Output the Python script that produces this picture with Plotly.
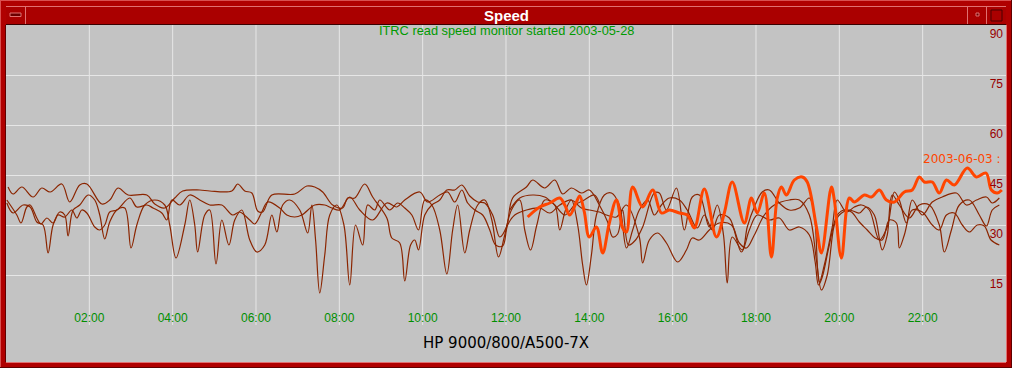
import plotly.graph_objects as go

# ---------------- data (hours of day, speed) ----------------
t_top = [0.05,0.17,0.38,0.65,0.86,1.06,1.34,1.53,1.77,1.94,2.30,2.49,2.69,2.93,3.38,3.57,3.81,4.05,4.24,4.65,4.89,5.42,5.56,5.73,5.90,6.04,6.16,6.38,6.93,7.22,7.41,7.60,7.84,8.08,8.20,8.37,8.61,8.80,9.14,9.26,9.45,9.57,9.71,9.81,9.90,10.05,10.22,10.41,10.58,10.77,10.94,11.13,11.32,11.49,11.68,11.85,12.01,12.16,12.49,12.64,12.93,13.17,13.36,13.57,13.81,14.00,14.24,14.44,14.56,14.68,14.80,14.94,15.11,15.28,15.56,15.68,15.85,16.09,16.28,16.47,16.64,16.88,17.07,17.22,17.31,17.43,17.67,17.79,17.96,18.15,18.32,18.56,18.80,19.04,19.28,19.40,19.52,19.64,19.83,19.95,20.17,20.36,20.53,20.72,20.96,21.15,21.32,21.44,21.61,21.75,21.99,22.23,22.47,22.81,23.05,23.29,23.53,23.67,23.84]
v_top = [41.4,39.3,41.4,38.4,41.1,39.9,42.3,36.9,42.0,42.3,36.3,37.5,41.1,39.0,39.0,36.3,35.1,38.1,40.2,40.5,40.2,40.2,42.3,40.2,39.6,34.2,33.9,39.0,39.3,41.7,41.4,39.9,36.0,35.1,38.1,38.1,42.3,38.4,32.1,26.1,24.6,13.2,24.0,25.5,22.5,33.0,36.0,37.5,40.5,40.5,42.0,38.7,36.9,36.6,33.0,26.4,29.4,38.1,41.4,43.5,41.1,43.5,39.3,41.1,39.6,40.5,36.0,30.9,26.4,27.3,34.5,24.0,25.5,29.4,39.6,39.6,34.5,41.1,28.5,38.4,39.0,29.4,36.0,27.0,12.6,26.4,22.5,29.4,35.4,39.9,40.5,36.6,34.5,35.1,38.1,33.0,12.9,18.0,29.4,37.5,33.9,35.4,36.0,34.5,25.5,29.4,39.9,37.5,30.6,37.5,33.0,36.9,38.4,39.6,36.0,37.5,38.4,36.6,38.1]

t_mid = [0.02,0.26,0.36,0.50,0.58,0.74,0.84,0.98,1.13,1.25,1.41,1.58,1.70,1.82,1.94,2.13,2.25,2.37,2.49,2.66,2.97,3.14,3.38,3.53,3.74,3.86,3.98,4.17,4.41,4.65,4.89,5.18,5.44,5.61,5.85,5.97,6.14,6.28,6.57,6.74,6.93,7.10,7.41,7.65,7.82,8.01,8.25,8.49,8.80,9.14,9.38,9.57,9.93,10.12,10.41,10.60,10.77,10.94,11.08,11.25,11.44,11.61,11.75,11.92,12.04,12.21,12.49,12.81,13.05,13.29,13.57,13.81,14.00,14.24,14.41,14.65,14.89,15.20,15.28,15.44,15.64,15.85,16.12,16.33,16.47,16.64,16.88,17.12,17.41,17.60,17.77,17.96,18.20,18.44,18.80,19.04,19.28,19.45,19.57,19.71,19.88,20.00,20.24,20.48,20.65,20.84,21.03,21.15,21.27,21.44,21.68,21.92,22.16,22.40,22.52,22.69,22.88,23.12,23.36,23.53,23.67,23.84]
v_mid = [37.5,33.0,30.6,35.4,36.0,32.1,30.3,32.1,30.6,33.0,32.4,34.5,32.1,34.5,33.6,29.4,28.5,30.0,33.9,34.5,38.1,35.4,36.0,35.1,33.6,31.5,37.5,36.0,39.0,37.5,36.0,36.0,33.0,33.9,31.5,30.3,33.9,36.9,35.1,33.0,32.4,33.0,36.0,36.0,35.1,34.5,38.4,34.5,31.5,36.6,35.4,37.5,39.9,36.9,39.0,39.9,36.9,40.5,36.6,34.5,33.0,28.5,24.0,23.7,30.0,33.0,34.5,35.1,33.6,36.0,37.5,35.1,34.5,33.9,33.0,32.4,36.0,26.4,18.6,25.5,27.6,24.6,18.9,22.5,26.1,25.5,28.5,30.6,30.0,24.6,23.1,27.0,33.0,36.0,37.5,37.5,33.0,19.5,10.5,15.0,30.0,33.0,34.5,33.6,35.4,33.0,22.5,27.0,39.0,36.0,32.1,36.0,36.0,30.0,21.9,28.5,36.0,37.5,33.0,29.7,34.5,36.0]

t_dip = [0.02,0.17,0.41,0.58,0.74,0.89,1.01,1.13,1.29,1.41,1.49,1.61,1.77,1.97,2.13,2.25,2.37,2.49,2.66,2.85,3.00,3.14,3.33,3.57,3.81,3.93,4.08,4.29,4.41,4.53,4.60,4.77,4.89,5.04,5.18,5.35,5.49,5.66,5.85,6.02,6.21,6.38,6.50,6.64,6.81,7.05,7.24,7.34,7.43,7.53,7.65,7.77,7.94,8.11,8.25,8.39,8.56,8.68,8.85,8.97,9.21,9.40,9.57,9.74,9.90,10.05,10.22,10.41,10.58,10.72,10.84,11.01,11.13,11.32,11.49,11.66,11.82,11.97,12.13,12.33,12.45,12.59,12.74,12.93,13.17,13.29,13.43,13.57,13.72,13.84,13.93,14.05,14.17,14.36,14.53,14.72,14.89,15.04,15.20,15.40,15.56,15.73,15.92,16.16,16.35,16.59,16.76,16.95,17.12,17.36,17.65,17.84,18.03,18.32,18.56,18.80,19.04,19.28,19.42,19.50,19.59,19.76,19.95,20.12,20.29,20.48,20.67,20.86,21.03,21.20,21.37,21.44,21.56,21.75,21.99,22.23,22.40,22.57,22.76,22.95,23.12,23.31,23.48,23.64,23.84]
v_dip = [36.6,33.6,36.0,35.4,30.9,30.0,21.6,30.0,33.9,33.0,26.7,34.5,36.0,39.0,37.5,33.0,25.8,30.9,34.5,35.1,23.1,30.0,36.0,37.5,36.0,30.0,20.1,30.0,37.5,30.0,21.9,33.0,34.5,18.3,31.5,24.0,31.5,34.5,25.5,21.9,24.0,33.0,27.9,36.0,37.5,34.5,27.6,36.0,25.5,9.6,21.0,33.0,36.0,30.0,12.0,30.0,24.0,36.0,34.5,37.5,34.5,36.6,35.1,33.0,28.5,37.5,36.0,28.5,15.3,28.5,36.0,21.6,28.5,36.0,37.5,31.5,20.4,27.0,34.5,37.5,28.5,22.5,30.0,37.5,36.0,28.5,34.5,37.5,30.0,18.0,12.0,21.0,33.0,39.0,39.6,36.0,23.1,28.5,34.5,37.5,33.0,36.0,38.1,37.5,34.5,29.1,33.0,28.5,33.0,32.1,21.9,28.5,33.0,31.5,32.1,28.5,29.4,27.0,18.9,12.0,14.4,24.0,33.0,34.5,33.9,30.9,28.5,26.1,25.5,31.5,30.6,23.1,27.0,34.5,33.9,30.0,28.5,33.0,33.6,30.0,27.9,30.0,29.7,25.5,24.0]

t_part = [12.09,12.33,12.64,12.93,13.17,13.41,13.65,13.88,14.12,14.24]
v_part = [34.5,38.1,39.0,38.4,36.0,33.0,36.0,37.5,39.0,36.6]

t_today = [12.52,12.81,13.05,13.29,13.41,13.53,13.69,13.77,13.88,14.00,14.17,14.32,14.48,14.65,14.80,14.89,15.04,15.28,15.52,15.73,15.92,16.16,16.35,16.52,16.76,17.05,17.24,17.43,17.72,17.89,18.03,18.20,18.37,18.51,18.61,18.73,18.92,19.11,19.23,19.45,19.57,19.81,19.88,20.05,20.24,20.36,20.60,20.77,20.96,21.13,21.32,21.56,21.75,21.92,22.04,22.23,22.40,22.57,22.76,23.07,23.29,23.52,23.65,23.79,23.90]
v_today = [32.4,35.4,36.6,38.1,36.0,33.0,36.9,38.7,33.9,26.4,29.4,21.6,30.6,37.5,29.1,27.9,41.4,35.4,40.5,33.6,34.5,33.6,33.0,29.1,40.8,26.4,33.6,42.9,30.6,38.1,33.6,39.6,20.4,38.1,41.4,39.0,43.5,44.4,42.9,29.4,21.6,41.4,37.5,20.1,38.1,36.9,39.0,38.4,40.5,37.5,36.9,39.9,40.5,44.4,42.9,42.9,39.6,43.5,42.0,47.1,44.4,45.6,40.5,39.6,40.5]

x_ticks = [2, 4, 6, 8, 10, 12, 14, 16, 18, 20, 22]
x_labels = ["02:00", "04:00", "06:00", "08:00", "10:00", "12:00", "14:00", "16:00", "18:00", "20:00", "22:00"]
y_ticks = [15, 30, 45, 60, 75, 90]

title = "Speed"
subtitle = "ITRC read speed monitor started 2003-05-28"
host = "HP 9000/800/A500-7X"
today_label = "2003-06-03 :"

THIN = "#8B2500"
ORANGE = "#FF4500"
GRID = "#E6E6E6"

fig = go.Figure()
for tx, vy in [(t_top, v_top), (t_mid, v_mid), (t_dip, v_dip), (t_part, v_part)]:
    fig.add_trace(go.Scatter(x=tx, y=vy, mode="lines",
                             line=dict(color=THIN, width=1.2, shape="spline", smoothing=1.0),
                             hoverinfo="skip", showlegend=False))
fig.add_trace(go.Scatter(x=t_today, y=v_today, mode="lines",
                         line=dict(color=ORANGE, width=3, shape="spline", smoothing=1.0),
                         hoverinfo="skip", showlegend=False))

# vertical grid lines (only from 0 up to 90)
shapes = []
for xv in x_ticks:
    shapes.append(dict(type="line", xref="x", yref="y", x0=xv, x1=xv, y0=0, y1=90,
                       line=dict(color=GRID, width=1), layer="below"))

def px(xp):
    return (xp - 6) / 1000.0
def py(yp):
    return (362 - yp) / 337.0

frame = [
    dict(type="rect", x0=px(6), x1=px(1006), y0=py(24), y1=py(6), fillcolor="#AA0000", line=dict(width=0)),
    dict(type="line", x0=px(6), x1=px(1006), y0=py(6.5), y1=py(6.5), line=dict(color="#E07070", width=1)),
    dict(type="line", x0=px(6), x1=px(1006), y0=py(24.5), y1=py(24.5), line=dict(color="#3A0000", width=1)),
    dict(type="line", x0=px(25.5), x1=px(25.5), y0=py(24), y1=py(6), line=dict(color="#E07070", width=1)),
    dict(type="rect", x0=px(10), x1=px(21), y0=py(16.5), y1=py(13), fillcolor="#6A0000", line=dict(color="#E07070", width=1)),
    dict(type="line", x0=px(967.5), x1=px(967.5), y0=py(24), y1=py(6), line=dict(color="#E07070", width=1)),
    dict(type="line", x0=px(986.5), x1=px(986.5), y0=py(24), y1=py(6), line=dict(color="#E07070", width=1)),
    dict(type="rect", x0=px(976), x1=px(979), y0=py(16), y1=py(13), fillcolor="#6A0000", line=dict(color="#E07070", width=1)),
    dict(type="rect", x0=px(991), x1=px(1002), y0=py(21), y1=py(10), fillcolor="rgba(0,0,0,0)", line=dict(color="#4A0000", width=1)),
    dict(type="line", x0=px(0), x1=px(1012), y0=py(0.5), y1=py(0.5), line=dict(color="#D85050", width=1)),
    dict(type="line", x0=px(0.5), x1=px(0.5), y0=py(368), y1=py(0), line=dict(color="#D85050", width=1)),
    dict(type="line", x0=px(0), x1=px(1012), y0=py(367.5), y1=py(367.5), line=dict(color="#600000", width=1)),
    dict(type="line", x0=px(1011.5), x1=px(1011.5), y0=py(368), y1=py(0), line=dict(color="#600000", width=1)),
    dict(type="line", x0=px(5.5), x1=px(5.5), y0=py(362), y1=py(25), line=dict(color="#600000", width=1)),
    dict(type="line", x0=px(1006.5), x1=px(1006.5), y0=py(362), y1=py(25), line=dict(color="#E07070", width=1)),
    dict(type="line", x0=px(6), x1=px(1006), y0=py(362.5), y1=py(362.5), line=dict(color="#E07070", width=1)),
]
for s in frame:
    s.update(xref="paper", yref="paper", layer="above")
    shapes.append(s)

annotations = [
    dict(text="<b>" + title + "</b>", x=0.5, y=py(15), xref="paper", yref="paper",
         xanchor="center", yanchor="middle", showarrow=False,
         font=dict(family="Liberation Sans", size=15, color="white")),
    dict(text=subtitle, x=0.5, y=py(31), xref="paper", yref="paper",
         xanchor="center", yanchor="middle", showarrow=False,
         font=dict(family="Liberation Sans", size=12.8, color="#009A00")),
    dict(text=host, x=0.5, y=py(343), xref="paper", yref="paper",
         xanchor="center", yanchor="middle", showarrow=False,
         font=dict(family="DejaVu Sans", size=15, color="black")),
    dict(text=today_label, x=1, y=49.8, xref="paper", yref="y",
         xanchor="right", yanchor="middle", xshift=-3, showarrow=False,
         font=dict(family="DejaVu Sans", size=12, color=ORANGE)),
]

fig.update_layout(
    width=1012, height=368,
    margin=dict(l=6, r=6, t=25, b=6),
    paper_bgcolor="#B00000",
    plot_bgcolor="#C3C3C3",
    showlegend=False,
    shapes=shapes,
    annotations=annotations,
    xaxis=dict(range=[0, 24], showgrid=False, zeroline=False, showline=False,
               tickvals=x_ticks, ticktext=x_labels, ticks="",
               anchor="free", position=py(309),
               tickfont=dict(family="Liberation Sans", size=12, color="#008F00")),
    yaxis=dict(range=[-11.1, 90], side="right", tickvals=y_ticks, ticks="",
               showgrid=True, gridcolor=GRID, gridwidth=1, zeroline=False, showline=False,
               ticklabelposition="inside bottom",
               tickfont=dict(family="Liberation Sans", size=12, color="#990000")),
)

fig.write_html("out.html", config={"displayModeBar": False},
               post_script="document.body.style.margin='0';document.body.style.overflow='hidden';")
